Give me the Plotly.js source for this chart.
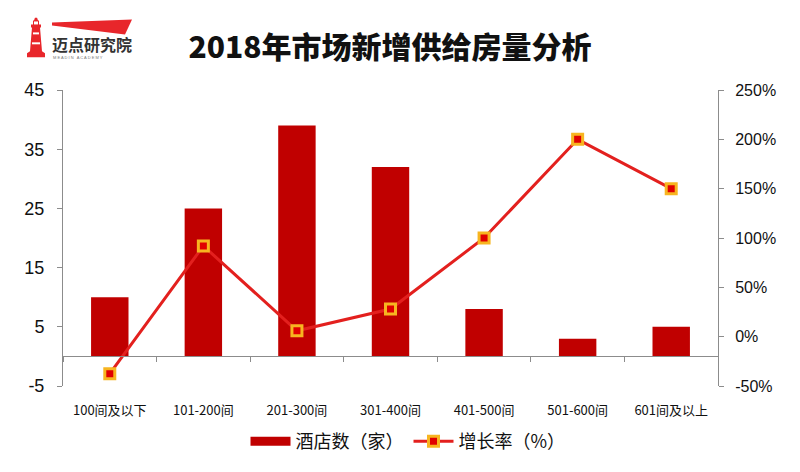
<!DOCTYPE html>
<html>
<head>
<meta charset="utf-8">
<script src="https://cdn.plot.ly/plotly-3.0.1.min.js"></script>
<style>html,body{margin:0;padding:0;background:#fff;}#chart{width:800px;height:472px;}</style>
</head>
<body>
<div id="chart"></div>
<script>
const categories = ["100间及以下", "101-200间", "201-300间", "301-400间", "401-500间", "501-600间", "601间及以上"];
const hotelCounts = [10, 25, 39, 32, 8, 3, 5];
const growthRates = [-0.375, 0.92, 0.06, 0.28, 1.00, 2.00, 1.50];
const leftTicks = [-5, 5, 15, 25, 35, 45];
const rightTicks = [-0.5, 0, 0.5, 1.0, 1.5, 2.0, 2.5];

const FONT = "Noto Sans CJK SC, Liberation Sans, sans-serif";
const W = 800, H = 472, ML = 63, MR = 82, MT = 90, MB = 84;
const PW = W - ML - MR, PH = H - MT - MB;
const px2x = p => (p - ML) / PW;
const px2y = p => (H - MB - p) / PH;

const logoSvg = '<svg xmlns="http://www.w3.org/2000/svg" width="110" height="45" viewBox="0 0 110 45">' +
  '<polygon points="27,5 107,2 100,17 27,8" fill="#E8262B"/>' +
  '<path d="M10,0 L12,0 L13,3 L14,3 L14,7 L16,7 L16,10 L15,10 L17,34 L20,36 L20,40 L2,40 L2,36 L5,34 L7,10 L6,10 L6,7 L8,7 L8,3 L9,3 Z" fill="#E8262B"/>' +
  '<rect x="9" y="4" width="4" height="3" fill="#fff"/>' +
  '<rect x="8" y="15" width="6" height="2" fill="#fff"/>' +
  '<rect x="7" y="25" width="8" height="2" fill="#fff"/>' +
  '</svg>';

const bars = {
  type: "bar",
  x: categories,
  y: hotelCounts,
  name: "酒店数（家）",
  marker: {color: "#C00000"},
  width: 0.4,
  showlegend: false,
  xaxis: "x",
  yaxis: "y"
};
// legend entry for the bars drawn as a wide block, like the reference
const barsLegend = {
  type: "scatter",
  mode: "lines",
  x: [categories[0]],
  y: [null],
  name: "酒店数（家）",
  line: {color: "#C00000", width: 9},
  hoverinfo: "skip",
  xaxis: "x",
  yaxis: "y"
};
const line = {
  type: "scatter",
  mode: "lines+markers",
  x: categories,
  y: growthRates,
  name: "增长率（%）",
  line: {color: "#E3201E", width: 3},
  marker: {symbol: "square", size: 10, color: "#E00000", line: {color: "#F7B520", width: 3}},
  xaxis: "x2",
  yaxis: "y2"
};

const layout = {
  width: W, height: H,
  margin: {l: ML, r: MR, t: MT, b: MB},
  paper_bgcolor: "#fff", plot_bgcolor: "#fff",
  font: {family: FONT, color: "#222"},
  showlegend: true,
  legend: {orientation: "h", x: px2x(408), xanchor: "center", y: px2y(444), yanchor: "middle",
           font: {size: 18, color: "#111", family: FONT}, itemwidth: 40, tracegroupgap: 0},
  title: {text: "2018年市场新增供给房量分析", x: 390 / W, xanchor: "center", y: 1 - 47 / H, yanchor: "middle",
          font: {size: 30, color: "#111", family: FONT, weight: 900}},
  xaxis: {
    type: "category", categoryarray: categories, range: [-0.5, 6.5],
    showline: false, showgrid: false, zeroline: false,
    ticks: "outside", ticklen: 12, tickcolor: "rgba(0,0,0,0)",
    tickfont: {size: 13, color: "#111", family: FONT}, fixedrange: true
  },
  xaxis2: {
    type: "category", categoryarray: categories, range: [-0.5, 6.5],
    overlaying: "x", anchor: "free", position: 5 / 50, side: "bottom",
    showline: true, linecolor: "#8c8c8c", linewidth: 1,
    ticks: "outside", tickson: "boundaries", ticklen: 5, tickcolor: "#8c8c8c",
    showticklabels: false, showgrid: false, zeroline: false
  },
  yaxis: {
    range: [-5, 45], tickvals: leftTicks, ticktext: leftTicks.map(String),
    showline: true, linecolor: "#8c8c8c", ticks: "outside", ticklen: 5, tickcolor: "#8c8c8c",
    showgrid: false, zeroline: false, ticklabelstandoff: 9,
    tickfont: {size: 18, color: "#111", family: "Liberation Sans, sans-serif"}
  },
  yaxis2: {
    range: [-0.5, 2.5], overlaying: "y", side: "right", anchor: "x",
    tickvals: rightTicks, ticktext: rightTicks.map(v => Math.round(v * 100) + "%"),
    showline: true, linecolor: "#8c8c8c", ticks: "outside", ticklen: 5, tickcolor: "#8c8c8c",
    showgrid: false, zeroline: false, ticklabelstandoff: 8,
    tickfont: {size: 16, color: "#111", family: "Liberation Sans, sans-serif"}
  },
  images: [{
    source: "data:image/svg+xml;utf8," + encodeURIComponent(logoSvg),
    xref: "paper", yref: "paper",
    x: px2x(25), y: px2y(17), sizex: 110 / PW, sizey: 45 / PH,
    xanchor: "left", yanchor: "top", sizing: "stretch", layer: "above"
  }],
  annotations: [
    {text: "<b>迈点研究院</b>", xref: "paper", yref: "paper", x: px2x(50), y: px2y(44),
     xanchor: "left", yanchor: "middle", showarrow: false, font: {size: 16, color: "#333", family: FONT}},
    {text: "M E A D I N   A C A D E M Y", xref: "paper", yref: "paper", x: px2x(51), y: px2y(57),
     xanchor: "left", yanchor: "middle", showarrow: false, font: {size: 4, color: "#777", family: "Liberation Sans"}}
  ]
};

Plotly.newPlot("chart", [bars, barsLegend, line], layout, {displayModeBar: false, staticPlot: true});
</script>
</body>
</html>
